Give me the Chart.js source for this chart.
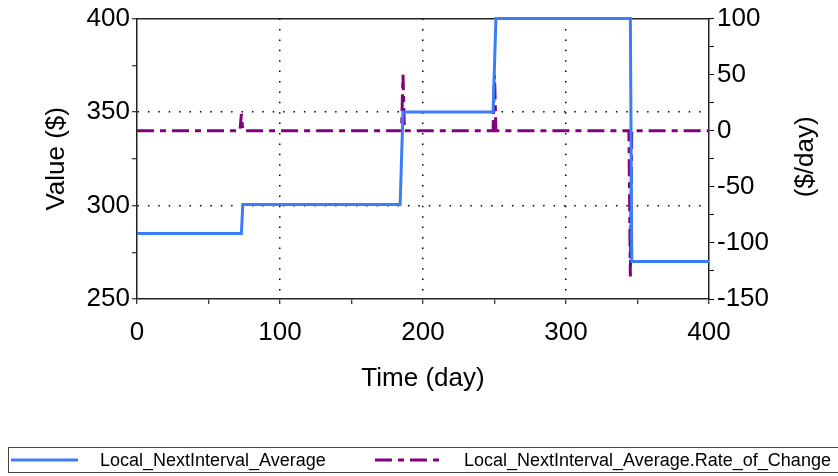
<!DOCTYPE html>
<html><head><meta charset="utf-8">
<script src="https://cdn.jsdelivr.net/npm/chart.js@4"></script>
<style>
html,body{margin:0;padding:0;background:#fff;overflow:hidden;}
#wrap{position:relative;width:838px;height:476px;}
#legend{position:absolute;left:8px;top:447px;width:900px;height:26px;border:1px solid #444;box-sizing:border-box;font-family:'Liberation Sans',Arial,sans-serif;font-size:18px;color:#000;}
.item{position:absolute;top:0;height:100%;display:flex;align-items:center;white-space:nowrap;}
.item svg{margin-right:22px;display:block;}
</style></head><body>
<div id="wrap"><canvas id="c" width="838" height="476"></canvas><div id="legend"></div></div>
<script>
// ---- data ----
const avgDays    = [0, 73, 74, 184, 186, 249, 251, 345, 346, 400];
const avgValues  = [285, 285, 300.5, 300.5, 350, 350, 400, 400, 270, 270];
const rateDays   = [0, 72, 73, 74, 185, 186, 187, 249, 250, 251, 344, 345, 346, 400];
const rateValues = [0, 0, 15, 0, 0, 50, 0, 0, 50, 0, 0, -130, 0, 0];
const seriesNames = ['Local_NextInterval_Average', 'Local_NextInterval_Average.Rate_of_Change'];
const xTitle = 'Time (day)';
const leftTitle = 'Value ($)';
const rightTitle = '($/day)';

const FAMILY = "'Liberation Sans', Arial, sans-serif";
Chart.defaults.font.family = FAMILY;
Chart.defaults.color = '#000';
const axisFont = {family: FAMILY, size: 26};
const clear = 'rgba(0,0,0,0)';
const dotted = [1.5, 8.9];

const rightTitlePlugin = {
  id: 'rightTitle',
  afterDraw(chart) {
    const s = chart.scales.y1, ca = chart.chartArea, ctx = chart.ctx;
    ctx.save();
    ctx.translate(s.left + 97, (ca.top + ca.bottom) / 2 - 2);
    ctx.rotate(-Math.PI / 2);
    ctx.font = "26px " + FAMILY;
    ctx.fillStyle = '#000';
    ctx.textAlign = 'center';
    ctx.textBaseline = 'middle';
    ctx.fillText(rightTitle, 0, 0);
    ctx.restore();
  }
};

const chart = new Chart(document.getElementById('c'), {
  type: 'line',
  data: {
    datasets: [
      {label: seriesNames[0], data: avgDays.map((d, i) => ({x: d, y: avgValues[i]})),
       borderColor: '#3b7cfb', borderWidth: 3, pointRadius: 0, tension: 0, fill: false, yAxisID: 'y', clip: 4},
      {label: seriesNames[1], data: rateDays.map((d, i) => ({x: d, y: rateValues[i]})),
       borderColor: '#800080', borderWidth: 3, borderDash: [17, 6, 6, 6], pointRadius: 0, tension: 0, fill: false, yAxisID: 'y1', clip: 4}
    ]
  },
  options: {
    responsive: false, animation: false, devicePixelRatio: 1,
    layout: {padding: {left: 0, right: 0, top: 18, bottom: 76}},
    plugins: {legend: {display: false}, tooltip: {enabled: false}},
    scales: {
      x: {
        type: 'linear', position: 'bottom', min: 0, max: 400,
        ticks: {stepSize: 50, autoSkip: false, maxRotation: 0, padding: 13, color: '#000', font: axisFont,
                callback: v => (v % 100 === 0 ? v : '')},
        grid: {color: c => (c.tick && c.tick.value % 100 === 0 && c.tick.value > 0 && c.tick.value < 400) ? '#000' : clear,
               lineWidth: 1.5, tickColor: '#000', tickLength: 5, tickWidth: 1},
        border: {display: true, color: '#222', width: 1.5, dash: dotted},
        title: {display: true, text: xTitle, font: axisFont, color: '#000', padding: {top: 0, bottom: 6}},
        afterFit: s => { s.height = 101; }
      },
      xTop: {
        type: 'linear', position: 'top', min: 0, max: 400,
        ticks: {display: false}, grid: {display: false, drawTicks: false},
        border: {display: true, color: '#222', width: 1.5},
        afterFit: s => { s.height = 0; }
      },
      y: {
        type: 'linear', position: 'left', min: 250, max: 400,
        ticks: {stepSize: 25, autoSkip: false, padding: 2, color: '#000', font: axisFont,
                callback: v => (v % 50 === 0 ? v : '')},
        grid: {color: c => (c.tick && (c.tick.value === 300 || c.tick.value === 350)) ? '#000' : clear,
               lineWidth: 1.5, tickColor: '#000', tickLength: 5, tickWidth: 1},
        border: {display: true, color: '#222', width: 1.5, dash: dotted},
        title: {display: true, text: leftTitle, font: axisFont, color: '#000', padding: {top: 41, bottom: 0}},
        afterFit: s => { s.width = 137; }
      },
      y1: {
        type: 'linear', position: 'right', min: -150, max: 100,
        ticks: {stepSize: 25, autoSkip: false, padding: 3, color: '#000', font: axisFont,
                callback: v => (v % 50 === 0 ? v : '')},
        grid: {drawOnChartArea: false, color: '#000', tickColor: '#000', tickLength: 5, tickWidth: 1},
        border: {display: true, color: '#222', width: 1.5},
        afterFit: s => { s.width = 129; }
      }
    }
  },
  plugins: [rightTitlePlugin]
});

// HTML legend built from the chart's datasets
const legendEl = document.getElementById('legend');
const itemLefts = [2, 366];
chart.data.datasets.forEach((ds, i) => {
  const item = document.createElement('div');
  item.className = 'item';
  item.style.left = itemLefts[i] + 'px';
  const dash = ds.borderDash ? ds.borderDash.join(' ') : 'none';
  item.innerHTML = '<svg width="67" height="6"><line x1="0" y1="3" x2="67" y2="3" stroke="' + ds.borderColor +
    '" stroke-width="' + ds.borderWidth + '" stroke-dasharray="' + dash + '"/></svg>';
  const span = document.createElement('span');
  span.textContent = ds.label;
  item.appendChild(span);
  legendEl.appendChild(item);
});
</script>
</body></html>
